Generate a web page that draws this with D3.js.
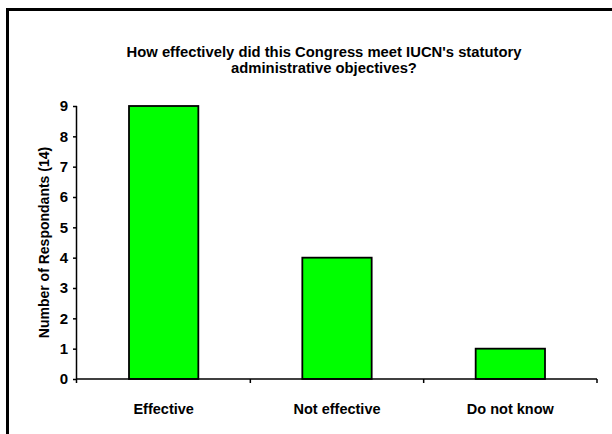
<!DOCTYPE html>
<html><head><meta charset="utf-8">
<script src="https://cdn.jsdelivr.net/npm/d3@7"></script>
<style>
html,body{margin:0;padding:0;background:#fff;}
svg{display:block;}
text{font-family:"Liberation Sans",Arial,sans-serif;font-weight:bold;fill:#000;}
</style></head>
<body>
<script>
const categories = ["Effective", "Not effective", "Do not know"];
const values = [9, 4, 1];
const yTicks = [0,1,2,3,4,5,6,7,8,9];
const titleLines = ["How effectively did this Congress meet IUCN's statutory", "administrative objectives?"];
const yLabel = "Number of Respondants (14)";

(function(){
const W = 612, H = 434;
const svg = d3.select("body").append("svg").attr("width", W).attr("height", H);

// frame
svg.append("path").attr("d", `M7.5,${H} V9.5 H${W}`).attr("fill","none").attr("stroke","#000").attr("stroke-width",3);

const pL = 77, pR = 597, pT = 106, pB = 379;
const x = d3.scaleBand().domain(categories).range([pL, pR]).paddingInner(0.6).paddingOuter(0.3);
const y = d3.scaleLinear().domain([0, 9]).range([pB, pT]);

// title
svg.append("text").attr("x", 324).attr("y", 57).attr("text-anchor","middle").style("font-size","14.8px")
  .selectAll("tspan").data(titleLines).join("tspan")
  .attr("x", 324).attr("dy", (d,i)=> i ? 15.5 : 0).text(d=>d);

// bars
svg.selectAll("rect.bar").data(values).join("rect").attr("class","bar")
  .attr("x", (d,i)=> x(categories[i]))
  .attr("y", d=> y(d))
  .attr("width", x.bandwidth())
  .attr("height", d=> y(0)-y(d))
  .attr("fill","#00ff00").attr("stroke","#000").attr("stroke-width",1.8);

// y axis
const yAxis = svg.append("g").attr("transform", `translate(${pL},0)`)
  .call(d3.axisLeft(y).tickValues(yTicks).tickSize(4).tickPadding(5).tickFormat(d3.format("d")))
  .attr("font-size", 15).attr("font-family", "Liberation Sans, Arial, sans-serif").attr("font-weight","bold");
yAxis.select(".domain").attr("d", `M-0.5,${pT} V${pB+4}`).attr("stroke","#000").attr("stroke-width",1.5);
yAxis.selectAll(".tick line").attr("stroke","#000").attr("stroke-width",1.5);
yAxis.selectAll(".tick text").style("font-size","15px");

// x axis
const boundaries = [0,1,2,3].map(i => pL + i*(pR-pL)/3);
svg.append("line").attr("x1", pL).attr("x2", pR).attr("y1", pB).attr("y2", pB)
  .attr("stroke","#000").attr("stroke-width",1.5);
svg.selectAll("line.xt").data(boundaries.slice(1)).join("line").attr("class","xt")
  .attr("x1", d=>d).attr("x2", d=>d).attr("y1", pB).attr("y2", pB+4)
  .attr("stroke","#000").attr("stroke-width",1.5);
svg.selectAll("text.xl").data(categories).join("text").attr("class","xl")
  .attr("x", d=> x(d) + x.bandwidth()/2).attr("y", 414)
  .attr("text-anchor","middle").style("font-size","14.5px").text(d=>d);

// y label
svg.append("text").attr("transform", `translate(49,${(pT+pB)/2}) rotate(-90)`)
  .attr("text-anchor","middle").style("font-size","14px").text(yLabel);
})();
</script>
</body></html>
